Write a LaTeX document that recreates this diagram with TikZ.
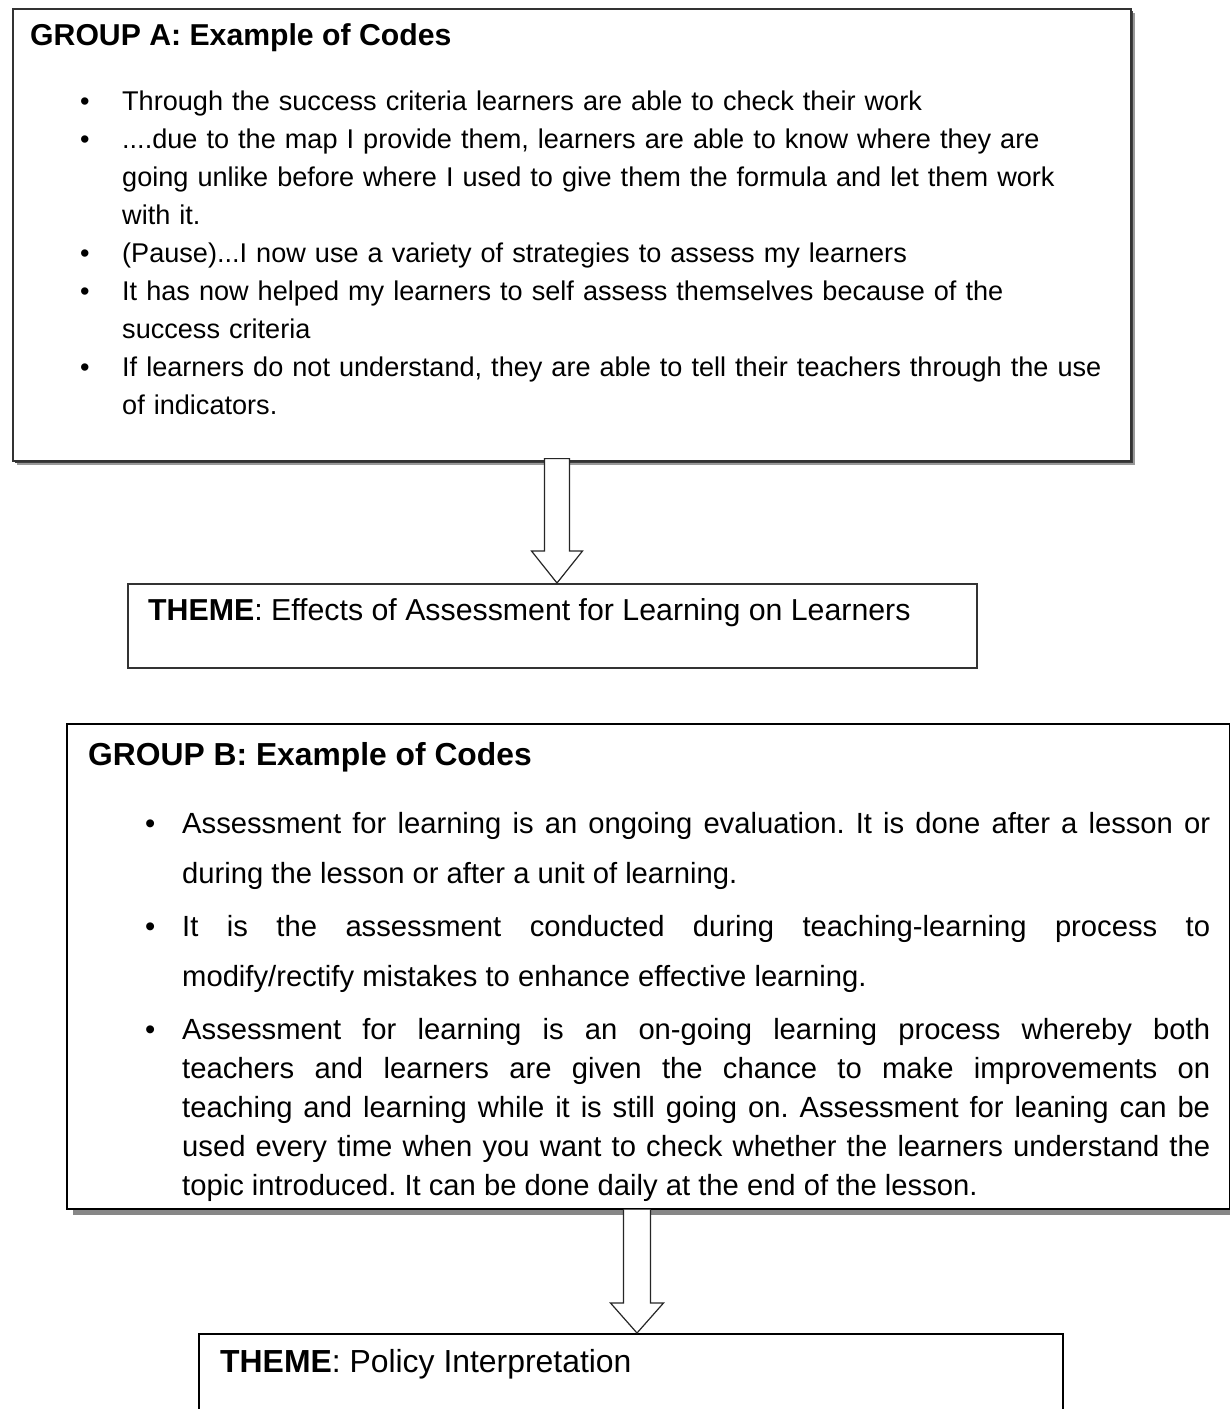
\documentclass[tikz,border=0pt]{standalone}
\usepackage{fontspec}
\setmainfont{Liberation Sans}
\usetikzlibrary{positioning, calc, shadows}
\frenchspacing
\hyphenpenalty=10000
\exhyphenpenalty=10000
\tolerance=10000
\hbadness=10000

\newcommand{\bitem}[1]{\hangindent=#1\hangafter=1\noindent\hbox to #1{\textbullet\hss}}

\begin{document}
\begin{tikzpicture}[
    x=1pt, y=-1pt,
    codebox/.style={draw=black!80, line width=1.6pt, fill=white, anchor=north west,
                    inner sep=0pt},
    themebox/.style={draw=black!80, line width=1.6pt, fill=white, anchor=north west,
                     inner sep=0pt},
    head/.style={anchor=base west, inner sep=0pt},
    listA/.style={anchor=base west, inner sep=0pt, text width=1080, align=left,
                  font=\fontsize{27.1}{38}\selectfont},
    listB/.style={anchor=base west, inner sep=0pt, text width=1065, align=justify,
                  font=\fontsize{29.2}{50}\selectfont},
    hollow/.style={draw=black!85, line width=1.2pt, fill=white, line join=miter},
  ]
  \useasboundingbox (0,0) rectangle (1230,1409);

  % Group A
  \node[codebox, minimum width=1118, minimum height=452,
        drop shadow={shadow xshift=4.5pt, shadow yshift=-4.5pt, fill=black!40, opacity=1},
        drop shadow={shadow xshift=2pt, shadow yshift=-2pt, fill=black!75, opacity=1}]
       (groupA) at (12,8) {};
  \node[head, font=\bfseries\fontsize{30.2}{36}\selectfont] (titleA) at (30,45)
       {GROUP A: Example of Codes};
  \node[listA] (codesA) at (80,110) {%
    \bitem{42pt}Through the success criteria learners are able to check their work\par
    \bitem{42pt}....due to the map I provide them, learners are able to know where they are\linebreak
      going unlike before where I used to give them the formula and let them work\linebreak
      with it.\par
    \bitem{42pt}(Pause)...I now use a variety of strategies to assess my learners\par
    \bitem{42pt}It has now helped my learners to self assess themselves because of the\linebreak
      success criteria\par
    \bitem{42pt}If learners do not understand, they are able to tell their teachers through the use\linebreak
      of indicators.\par};

  % Theme A
  \node[themebox, minimum width=849, minimum height=84] (themeA) at (127,583) {};
  \node[head, font=\fontsize{30.3}{36}\selectfont] (themeAtext) at (148,620)
       {\textbf{THEME}: Effects of Assessment for Learning on Learners};

  % Group B
  \node[codebox, draw=black, line width=1.5pt, minimum width=1163, minimum height=485,
        drop shadow={shadow xshift=6pt, shadow yshift=-6pt, fill=black!47, opacity=1}]
       (groupB) at (66,723) {};
  \node[head, font=\bfseries\fontsize{31.8}{36}\selectfont] (titleB) at (88,765)
       {GROUP B: Example of Codes};
  \node[listB] (codesB1) at (145,833) {%
    \bitem{37pt}Assessment for learning is an ongoing evaluation. It is done after a lesson or\linebreak
      during the lesson or after a unit of learning.\par};
  \node[listB] (codesB2) at (145,936) {%
    \bitem{37pt}It is the assessment conducted during teaching-learning process to\linebreak
      modify/rectify mistakes to enhance effective learning.\par};
  \node[listB, font=\fontsize{29.2}{39}\selectfont] (codesB3) at (145,1039) {%
    \bitem{37pt}Assessment for learning is an on-going learning process whereby both\linebreak
      teachers and learners are given the chance to make improvements on\linebreak
      teaching and learning while it is still going on. Assessment for leaning can be\linebreak
      used every time when you want to check whether the learners understand the\linebreak
      topic introduced. It can be done daily at the end of the lesson.\par};

  % Theme B
  \node[themebox, draw=black, line width=1.5pt, minimum width=864, minimum height=100]
       (themeB) at (198,1333) {};
  \node[head, font=\fontsize{31.9}{36}\selectfont] (themeBtext) at (220,1372)
       {\textbf{THEME}: Policy Interpretation};

  % Arrows
  \coordinate (tipA) at (557,583);
  \coordinate (tipB) at (637,1333);
  \draw[hollow] ($(tipA |- groupA.south)+(-12.5,-3)$) -- ($(tipA)+(-12.5,-32)$)
    -- ($(tipA)+(-25.5,-32)$) -- (tipA) -- ($(tipA)+(25.5,-32)$)
    -- ($(tipA)+(12.5,-32)$) -- ($(tipA |- groupA.south)+(12.5,-3)$) -- cycle;
  \draw[hollow] ($(tipB |- groupB.south)+(-13.5,0)$) -- ($(tipB)+(-13.5,-30)$)
    -- ($(tipB)+(-26.5,-30)$) -- (tipB) -- ($(tipB)+(26.5,-30)$)
    -- ($(tipB)+(13.5,-30)$) -- ($(tipB |- groupB.south)+(13.5,0)$);
\end{tikzpicture}
\end{document}
